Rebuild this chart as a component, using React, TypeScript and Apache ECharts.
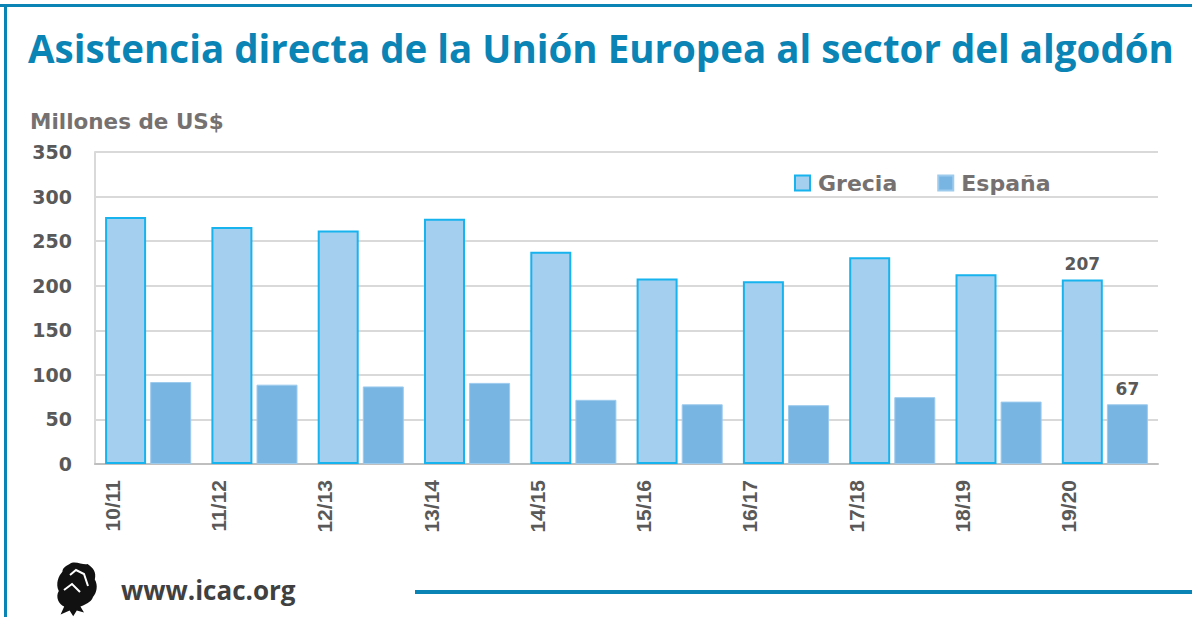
import React, { useEffect, useRef } from "react";
import * as echarts from "echarts";

const categories = ["10/11", "11/12", "12/13", "13/14", "14/15", "15/16", "16/17", "17/18", "18/19", "19/20"];
const grecia = [277, 266, 262, 275, 238, 208, 205, 232, 213, 207];
const espana = [92, 89, 87, 91, 72, 67, 66, 75, 70, 67];
const yTicks = { min: 0, max: 350, interval: 50 };

const logoPath =
  "M14 2 C20 -2 30 4 34 2 C40 6 44 10 42 18 C46 24 44 32 40 36 C38 42 30 44 26 46 L30 52 L22 50 L18 56 L14 50 L4 54 L8 46 C2 44 -2 36 2 30 C-2 22 2 14 6 10 C6 6 10 4 14 2 Z";

export default function App() {
  const ref = useRef<HTMLDivElement>(null);
  useEffect(() => {
    document.body.style.margin = "0";
    const Logo = echarts.graphic.extendPath(logoPath as any, {});
    echarts.graphic.registerShape("logo", Logo as any);
    const chart = echarts.init(ref.current!, null, { renderer: "svg" });
    const gray = "#595959";
    const labelFont = { fontFamily: "DejaVu Sans", fontWeight: "bold" as const };
    chart.setOption({
      animation: false,
      backgroundColor: "#ffffff",
      title: {
        text: "Asistencia directa de la Unión Europea al sector del algodón",
        left: 23,
        top: 23,
        textStyle: { fontFamily: "Open Sans", fontWeight: "bold", fontSize: 38.5, color: "#0A84B5" },
      },
      legend: {
        left: 789,
        top: 167,
        icon: "rect",
        itemWidth: 15,
        itemHeight: 15,
        itemGap: 40,
        textStyle: { ...labelFont, fontSize: 22, color: "#767171", padding: [0, 0, 0, 3] },
        data: ["Grecia", "España"],
      },
      grid: [
        { left: 95, right: 34, top: 152, bottom: 153 },
        { left: 59, right: 70, top: 152, bottom: 153 },
      ],
      xAxis: [
        {
          type: "category",
          data: categories,
          gridIndex: 0,
          axisLine: { lineStyle: { color: "#BFBFBF", width: 2 } },
          axisTick: { show: false },
          axisLabel: { show: false },
        },
        {
          type: "category",
          data: categories,
          gridIndex: 1,
          axisLine: { show: false },
          axisTick: { show: false },
          axisLabel: {
            rotate: 90,
            margin: 16,
            fontFamily: "Liberation Sans",
            fontWeight: "bold",
            fontSize: 21,
            color: gray,
          },
        },
      ],
      yAxis: [
        {
          type: "value",
          gridIndex: 0,
          min: yTicks.min,
          max: yTicks.max,
          interval: yTicks.interval,
          name: "Millones de US$",
          nameLocation: "end",
          nameGap: 20,
          nameTextStyle: { align: "left", padding: [0, 0, 0, -65], ...labelFont, fontSize: 21.5, color: "#767171" },
          axisLine: { show: true, lineStyle: { color: "#D9D9D9", width: 2 } },
          axisTick: { show: false },
          splitLine: { lineStyle: { color: "#D9D9D9", width: 2 } },
          axisLabel: { margin: 23, ...labelFont, fontSize: 19, color: gray },
        },
        {
          type: "value",
          gridIndex: 1,
          min: yTicks.min,
          max: yTicks.max,
          interval: yTicks.interval,
          show: false,
        },
      ],
      series: [
        {
          name: "Grecia",
          type: "bar",
          xAxisIndex: 0,
          yAxisIndex: 0,
          barWidth: 41,
          barGap: "10%",
          itemStyle: { color: "#A5CFEF", borderColor: "#16B3EE", borderWidth: 2 },
          data: grecia.map((v, i) =>
            i === grecia.length - 1
              ? { value: v, label: { show: true, position: "top", distance: 7, ...labelFont, fontSize: 17, color: gray } }
              : v
          ),
        },
        {
          name: "España",
          type: "bar",
          xAxisIndex: 0,
          yAxisIndex: 0,
          barWidth: 41,
          itemStyle: { color: "#78B5E3", borderColor: "#9DCBEE", borderWidth: 1 },
          data: espana.map((v, i) =>
            i === espana.length - 1
              ? { value: v, label: { show: true, position: "top", distance: 7, ...labelFont, fontSize: 17, color: gray } }
              : v
          ),
        },
      ],
      graphic: [
        { type: "rect", shape: { x: 0, y: 4, width: 1192, height: 3 }, style: { fill: "#0A84B5" } },
        { type: "rect", shape: { x: 4, y: 4, width: 3, height: 613 }, style: { fill: "#0A84B5" } },
        { type: "rect", shape: { x: 415, y: 590, width: 777, height: 4 }, style: { fill: "#0A84B5" } },
        { type: "logo", x: 57, y: 562, scaleX: 0.9, scaleY: 0.97, style: { fill: "#111111" } },
        { type: "polyline", shape: { points: [[70, 575], [76, 570], [84, 574], [88, 586]] }, style: { stroke: "#ffffff", lineWidth: 2, fill: "none" } },
        { type: "polyline", shape: { points: [[64, 590], [72, 584], [80, 592]] }, style: { stroke: "#ffffff", lineWidth: 2, fill: "none" } },
        {
          type: "text",
          x: 121,
          y: 590,
          style: { text: "www.icac.org", fontFamily: "Open Sans", fontWeight: "bold", fontSize: 26, fill: "#404040", verticalAlign: "middle" },
        },
      ],
    });
    return () => chart.dispose();
  }, []);
  return <div ref={ref} style={{ position: "fixed", left: 0, top: 0, width: 1192, height: 617 }} />;
}
